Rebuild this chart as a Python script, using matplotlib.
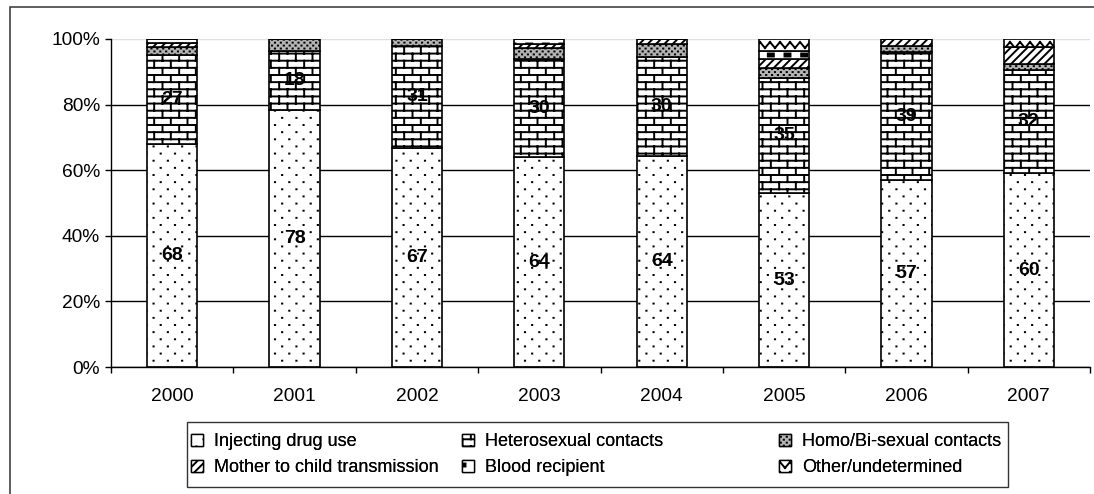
import warnings
import numpy as np
import matplotlib
matplotlib.use("Agg")
import matplotlib.pyplot as plt
import matplotlib.hatch as mhatch
from matplotlib.path import Path
from matplotlib.patches import Patch, Rectangle
from matplotlib.ticker import PercentFormatter

warnings.filterwarnings("ignore")

years = ["2000", "2001", "2002", "2003", "2004", "2005", "2006", "2007"]
idu = [68, 78, 67, 64, 64, 53, 57, 60]          # Injecting drug use
hetero = [27, 18, 31, 30, 30, 35, 39, 32]       # Heterosexual contacts
homo = [2.6, 3.6, 2.2, 3.5, 4.0, 3.3, 1.8, 1.8]  # Homo/Bi-sexual contacts
mother = [1.2, 0, 0, 1.3, 1.4, 2.7, 2.2, 5.3]    # Mother to child transmission
blood = [1.2, 0, 0, 1.4, 0, 2.3, 0, 0]           # Blood recipient
other = [0, 0, 0, 0, 0, 3.7, 0, 2.4]             # Other/undetermined

names = ["Injecting drug use", "Heterosexual contacts", "Homo/Bi-sexual contacts",
         "Mother to child transmission", "Blood recipient", "Other/undetermined"]


# --- extra hatch patterns (brick, sparse dots, fine checker, blocks, waves) ---
class SegHatch(mhatch.HatchPatternBase):
    key = None

    def __init__(self, hatch, density):
        if hatch and self.key in hatch:
            self.segs = np.array(self.make(), dtype=float).reshape(-1, 2, 2)
        else:
            self.segs = np.empty((0, 2, 2))
        self.num_vertices = len(self.segs) * 2

    def set_vertices_and_codes(self, vertices, codes):
        vertices[:] = self.segs.reshape(-1, 2)
        codes[0::2] = Path.MOVETO
        codes[1::2] = Path.LINETO


class BrickHatch(SegHatch):
    key = "b"

    def make(self):
        rows, cols = 14, 6
        segs = []
        for r in range(rows):
            y0 = (r + 0.5) / rows
            y1 = (r + 1.5) / rows
            segs.append([[0, y0], [1, y0]])
            off = 0.25 if r % 2 == 0 else 0.75
            for c in range(cols):
                x = (c + off) / cols
                if y1 > 1:
                    segs.append([[x, y0], [x, 1]])
                    segs.append([[x, 0], [x, y1 - 1]])
                else:
                    segs.append([[x, y0], [x, y1]])
        return segs


class DotHatch(SegHatch):
    key = "d"
    rows, cols = 14, 7

    def make(self):
        segs = []
        for r in range(self.rows):
            y = (r + 0.5) / self.rows
            off = 0.25 if r % 2 == 0 else 0.75
            for c in range(self.cols):
                x = (c + off) / self.cols
                segs.append([[x - 0.001, y], [x + 0.001, y]])
        return segs


class CheckHatch(DotHatch):
    key = "c"
    rows, cols = 34, 17


class WaveHatch(SegHatch):
    key = "w"

    def make(self):
        rows, per = 10, 10
        a = 0.03
        segs = []
        for r in range(rows):
            y = (r + 0.5) / rows
            for p in range(per):
                x0 = p / per
                xm = x0 + 0.5 / per
                x1 = x0 + 1.0 / per
                segs.append([[x0, y + a], [xm, y - a]])
                segs.append([[xm, y - a], [x1, y + a]])
        return segs


class BlockHatch(mhatch.HatchPatternBase):
    def __init__(self, hatch, density):
        self.on = bool(hatch) and "k" in hatch
        self.rows, self.cols = 10, 6
        self.num_vertices = self.rows * self.cols * 5 if self.on else 0

    def set_vertices_and_codes(self, vertices, codes):
        i = 0
        for r in range(self.rows):
            yc = (r + 0.5) / self.rows
            off = 0.25 if r % 2 == 0 else 0.75
            for c in range(self.cols):
                xc = (c + off) / self.cols
                x0, x1 = xc - 0.03, xc + 0.03
                y0, y1 = yc - 0.015, yc + 0.015
                vertices[i:i + 5] = [[x0, y0], [x1, y0], [x1, y1], [x0, y1], [x0, y0]]
                codes[i:i + 5] = [Path.MOVETO, Path.LINETO, Path.LINETO,
                                  Path.LINETO, Path.CLOSEPOLY]
                i += 5


mhatch._hatch_types.extend([BrickHatch, DotHatch, CheckHatch, WaveHatch, BlockHatch])

plt.rcParams["font.family"] = ["Liberation Sans", "DejaVu Sans"]
plt.rcParams["hatch.linewidth"] = 1.4

hatches = ["d", "b", "c", "////", "k", "w"]
faces = ["white", "white", "#b4b4b4", "white", "white", "white"]
series = [idu, hetero, homo, mother, blood, other]

fig = plt.figure(figsize=(10.94, 4.94), dpi=100)
ax = fig.add_axes([111 / 1094, 1 - 367 / 494, (1090 - 111) / 1094, (367 - 39) / 494])

data = np.array(series, dtype=float)
frac = data / data.sum(axis=0)
x = np.arange(len(years))
bottom = np.zeros(len(years))
conts = []
for vals, h, fc in zip(frac, hatches, faces):
    c = ax.bar(x, vals, 0.41, bottom=bottom, facecolor=fc, edgecolor="black",
               linewidth=1.2, hatch=h, zorder=2)
    conts.append(c)
    bottom += vals

ax.bar_label(conts[0], labels=[str(v) for v in idu], label_type="center",
             fontsize=14, fontweight="bold", zorder=5)
ax.bar_label(conts[1], labels=[str(v) for v in hetero], label_type="center",
             fontsize=14, fontweight="bold", zorder=5)

ax.set_xlim(-0.5, len(years) - 0.5)
ax.set_ylim(0, 1)
ax.set_yticks(np.arange(0, 1.01, 0.2))
ax.yaxis.set_major_formatter(PercentFormatter(1.0, decimals=0))
ax.yaxis.grid(True, color="black", linewidth=1.0, zorder=0)
ax.get_ygridlines()[-1].set_color("#e0e0e0")
ax.set_axisbelow(True)

ax.set_xticks(np.arange(-0.5, len(years), 1))
ax.tick_params(axis="x", which="major", length=4.5, width=1, labelbottom=False)
ax.set_xticks(x, labels=years, minor=True)
ax.tick_params(axis="x", which="minor", length=0, pad=15, labelsize=13.8)
ax.tick_params(axis="y", length=4.5, width=1, pad=3.5, labelsize=13.8)

for s in ["top", "right"]:
    ax.spines[s].set_visible(False)
for s in ["left", "bottom"]:
    ax.spines[s].set_linewidth(1.0)

# legend: three columns inside one frame
handles = [Patch(facecolor=fc, edgecolor="black", linewidth=1.0, hatch=h)
           for h, fc in zip(hatches, faces)]
cols = [(0, 3), (1, 4), (2, 5)]
col_x = [191, 462, 779]
for (i, j), cx in zip(cols, col_x):
    lg = fig.legend([handles[i], handles[j]], [names[i], names[j]],
                    loc="center left", bbox_to_anchor=(cx / 1094, 1 - 454.5 / 494),
                    frameon=False, fontsize=13, borderpad=0, borderaxespad=0,
                    handlelength=0.66, handleheight=0.66, handletextpad=0.6,
                    labelspacing=0.5)
    fig.add_artist(lg)

fig.add_artist(Rectangle((187 / 1094, 1 - 487 / 494), (1008 - 187) / 1094, (487 - 422) / 494,
                         transform=fig.transFigure, fill=False, edgecolor="#333333",
                         linewidth=1.0))
fig.add_artist(Rectangle((9.5 / 1094, -0.1), 1.2, 0.1 + 1 - 7.5 / 494,
                         transform=fig.transFigure, fill=False, edgecolor="#333333",
                         linewidth=1.1))

fig.savefig("out.png", dpi=100)
